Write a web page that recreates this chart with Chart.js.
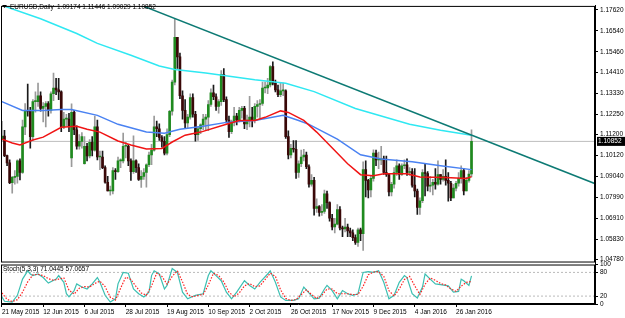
<!DOCTYPE html>
<html>
<head>
<meta charset="utf-8">
<script src="https://cdn.jsdelivr.net/npm/chart.js@4.4.1/dist/chart.umd.min.js"></script>
<style>
  html, body { margin: 0; padding: 0; background: #fff; }
</style>
</head>
<body>
<canvas id="chart" width="625" height="318"></canvas>
<script>
// EURUSD daily, 21 May 2015 .. 3 Feb 2016 (bar index 0..182)
const dateLabels = ["21 May 2015", "12 Jun 2015", "6 Jul 2015", "28 Jul 2015", "19 Aug 2015", "10 Sep 2015",
                    "2 Oct 2015", "26 Oct 2015", "17 Nov 2015", "9 Dec 2015", "4 Jan 2016", "26 Jan 2016"];
const dateIndex  = [0, 16, 32, 48, 64, 80, 96, 112, 128, 144, 160, 176];

const priceTicks = [1.1762, 1.1654, 1.1546, 1.1441, 1.1333, 1.1225, 1.1120, 1.1012,
                    1.0904, 1.0799, 1.0691, 1.0583, 1.0478];
const stochTicks = [100, 80, 20, 0];
const stochLevels = [20, 80];
const bid = 1.10852;

const open = [
  1.1095,1.1112,1.1012,1.0975,1.0873,1.0900,1.0905,1.0985,1.0925,1.1160,
  1.1245,1.1240,1.1110,1.1290,1.1290,1.1320,1.1255,1.1265,1.1280,1.1245,
  1.1330,1.1360,1.1350,1.1340,1.1160,1.1200,1.1200,1.1000,1.1235,1.1145,
  1.1060,1.1085,1.0970,1.1060,1.1010,1.1080,1.1040,1.1160,1.1005,1.1005,
  1.0950,1.0875,1.0830,1.0830,1.0935,1.0930,1.0985,1.0985,1.1060,1.1060,
  1.0985,1.0930,1.0985,1.0950,1.0890,1.0905,1.0925,1.0965,1.1015,1.1040,
  1.1160,1.1150,1.1105,1.1085,1.1025,1.1120,1.1240,1.1390,1.1620,1.1520,
  1.1320,1.1245,1.1180,1.1210,1.1310,1.1225,1.1120,1.1150,1.1170,1.1200,
  1.1210,1.1275,1.1335,1.1315,1.1265,1.1290,1.1430,1.1300,1.1195,1.1135,
  1.1185,1.1215,1.1195,1.1245,1.1255,1.1175,1.1195,1.1210,1.1195,1.1265,
  1.1275,1.1280,1.1360,1.1360,1.1375,1.1470,1.1385,1.1350,1.1325,1.1345,
  1.1345,1.1110,1.1015,1.1050,1.1045,1.0925,1.0970,1.1005,1.1015,1.0955,
  1.0865,1.0885,1.0740,1.0750,1.0720,1.0725,1.0815,1.0770,1.0690,1.0645,
  1.0660,1.0735,1.0640,1.0635,1.0645,1.0625,1.0615,1.0590,1.0565,1.0630,
  1.0610,1.0940,1.0885,1.0835,1.0895,1.1025,1.0990,1.0990,1.0995,1.0925,
  1.0915,1.0825,1.0865,1.0925,1.0960,1.0915,1.0960,1.0965,1.0925,1.0930,
  1.0860,1.0830,1.0745,1.0780,1.0925,1.0920,1.0855,1.0860,1.0875,1.0865,
  1.0915,1.0890,1.0905,1.0885,1.0870,1.0795,1.0845,1.0870,1.0895,1.0935,
  1.0830,1.0885,1.09174
];
const high = [
  1.1189,1.1142,1.1015,1.0990,1.0905,1.0935,1.0990,1.0995,1.1195,1.1280,
  1.1380,1.1260,1.1300,1.1340,1.1385,1.1340,1.1285,1.1290,1.1290,1.1340,
  1.1436,1.1410,1.1410,1.1345,1.1235,1.1225,1.1230,1.1278,1.1245,1.1165,
  1.1120,1.1130,1.1110,1.1075,1.1095,1.1110,1.1215,1.1195,1.1035,1.1035,
  1.0960,1.0905,1.0855,1.0950,1.0945,1.1005,1.0995,1.1128,1.1080,1.1070,
  1.0995,1.1114,1.0990,1.0970,1.0935,1.0945,1.0970,1.1030,1.1070,1.1215,
  1.1190,1.1175,1.1115,1.1110,1.1150,1.1245,1.1400,1.1714,1.1620,1.1540,
  1.1345,1.1300,1.1225,1.1330,1.1330,1.1240,1.1160,1.1175,1.1225,1.1225,
  1.1295,1.1355,1.1375,1.1330,1.1300,1.1450,1.1460,1.1315,1.1215,1.1195,
  1.1260,1.1230,1.1260,1.1265,1.1265,1.1220,1.1317,1.1260,1.1280,1.1295,
  1.1300,1.1390,1.1390,1.1410,1.1475,1.1495,1.1400,1.1375,1.1385,1.1385,
  1.1350,1.1140,1.1070,1.1090,1.1090,1.0985,1.1040,1.1045,1.1030,1.0965,
  1.0915,1.0900,1.0790,1.0755,1.0760,1.0835,1.0830,1.0775,1.0710,1.0690,
  1.0760,1.0750,1.0650,1.0690,1.0660,1.0640,1.0630,1.0605,1.0640,1.0640,
  1.0980,1.0985,1.0890,1.0905,1.1042,1.1040,1.1030,1.1060,1.1010,1.1010,
  1.0920,1.0875,1.0950,1.0990,1.0970,1.0970,1.0990,1.0995,1.0950,1.0945,
  1.0945,1.0840,1.0795,1.0940,1.0970,1.0930,1.0905,1.0890,1.0945,1.0985,
  1.0915,1.0940,1.0990,1.0925,1.0880,1.0865,1.0880,1.0925,1.0960,1.0945,
  1.0900,1.0935,1.11446
];
const low = [
  1.1085,1.1006,1.0960,1.0868,1.0819,1.0865,1.0870,1.0887,1.0920,1.1120,
  1.1215,1.1050,1.1090,1.1235,1.1265,1.1240,1.1185,1.1160,1.1215,1.1230,
  1.1295,1.1325,1.1300,1.1135,1.1150,1.1165,1.1135,1.0955,1.1120,1.1045,
  1.1045,1.1050,1.0968,1.0985,1.1000,1.1010,1.1035,1.0990,1.0940,1.0945,
  1.0870,1.0830,1.0809,1.0815,1.0890,1.0925,1.0950,1.0975,1.1000,1.0960,
  1.0885,1.0920,1.0925,1.0885,1.0848,1.0890,1.0850,1.0955,1.0965,1.1035,
  1.1110,1.1090,1.1055,1.1015,1.1015,1.1110,1.1220,1.1375,1.1460,1.1305,
  1.1200,1.1155,1.1155,1.1200,1.1210,1.1086,1.1090,1.1125,1.1145,1.1140,
  1.1140,1.1265,1.1300,1.1245,1.1230,1.1270,1.1290,1.1180,1.1105,1.1125,
  1.1165,1.1170,1.1185,1.1205,1.1150,1.1145,1.1160,1.1160,1.1180,1.1210,
  1.1205,1.1270,1.1335,1.1330,1.1365,1.1375,1.1340,1.1315,1.1315,1.1320,
  1.1100,1.0995,1.1000,1.1030,1.0895,1.0900,1.0955,1.0985,1.0945,1.0850,
  1.0855,1.0706,1.0720,1.0700,1.0705,1.0715,1.0740,1.0675,1.0630,1.0615,
  1.0655,1.0630,1.0595,1.0620,1.0595,1.0595,1.0575,1.0555,1.0545,1.0575,
  1.0524,1.0800,1.0795,1.0800,1.0880,1.0960,1.0945,1.0965,1.0915,1.0905,
  1.0805,1.0805,1.0845,1.0910,1.0890,1.0910,1.0945,1.0910,1.0910,1.0850,
  1.0800,1.0710,1.0710,1.0770,1.0805,1.0830,1.0825,1.0810,1.0840,1.0860,
  1.0865,1.0880,1.0860,1.0778,1.0780,1.0795,1.0830,1.0855,1.0870,1.0810,
  1.0830,1.0875,1.09029
];
const close = [
  1.1112,1.1012,1.0975,1.0873,1.0900,1.0905,1.0985,1.0925,1.1160,1.1245,
  1.1240,1.1110,1.1290,1.1290,1.1320,1.1255,1.1265,1.1280,1.1245,1.1330,
  1.1360,1.1350,1.1340,1.1160,1.1200,1.1200,1.1165,1.1235,1.1145,1.1060,
  1.1085,1.1110,1.1060,1.1010,1.1080,1.1040,1.1160,1.1005,1.1005,1.0950,
  1.0875,1.0830,1.0830,1.0935,1.0930,1.0985,1.0985,1.1060,1.1060,1.0985,
  1.0930,1.0985,1.0950,1.0890,1.0905,1.0925,1.0965,1.1015,1.1040,1.1160,
  1.1150,1.1105,1.1085,1.1025,1.1120,1.1240,1.1390,1.1620,1.1520,1.1320,
  1.1245,1.1180,1.1210,1.1310,1.1225,1.1120,1.1150,1.1170,1.1200,1.1210,
  1.1275,1.1335,1.1315,1.1265,1.1290,1.1430,1.1300,1.1195,1.1135,1.1185,
  1.1215,1.1195,1.1245,1.1255,1.1175,1.1195,1.1210,1.1195,1.1265,1.1275,
  1.1280,1.1360,1.1360,1.1375,1.1470,1.1385,1.1350,1.1325,1.1345,1.1345,
  1.1110,1.1015,1.1050,1.1045,1.0925,1.0970,1.1005,1.1015,1.0955,1.0865,
  1.0885,1.0740,1.0750,1.0720,1.0725,1.0815,1.0770,1.0690,1.0645,1.0660,
  1.0735,1.0640,1.0635,1.0645,1.0625,1.0615,1.0590,1.0565,1.0630,1.0610,
  1.0940,1.0885,1.0835,1.0895,1.1025,1.0990,1.0990,1.0995,1.0925,1.0915,
  1.0825,1.0865,1.0925,1.0960,1.0915,1.0960,1.0965,1.0925,1.0930,1.0860,
  1.0830,1.0745,1.0780,1.0925,1.0920,1.0855,1.0860,1.0875,1.0865,1.0915,
  1.0890,1.0905,1.0885,1.0870,1.0795,1.0845,1.0870,1.0895,1.0935,1.0830,
  1.0885,1.0917,1.10852
];

// moving averages, [bar index, price]
const maCyan = [[0,1.1785],[15,1.1716],[29,1.1640],[37,1.1589],[50,1.1528],[61,1.1473],[67,1.1455],
  [79,1.1437],[98,1.1402],[110,1.1384],[121,1.1341],[137,1.1254],[158,1.1173],[170,1.1143],[182,1.1117]];
const maBlue = [[0,1.1290],[8,1.1244],[16,1.1244],[23,1.1249],[27,1.1249],[37,1.1219],[45,1.1173],
  [56,1.1133],[63,1.1127],[69,1.1148],[78,1.1163],[87,1.1183],[98,1.1193],[109,1.1219],[115,1.1193],
  [119,1.1173],[130,1.1097],[139,1.1016],[147,1.0995],[159,1.0980],[170,1.0960],[182,1.0940]];
const maRed = [[0,1.1097],[4,1.1077],[7,1.1067],[12,1.1092],[16,1.1107],[23,1.1158],[29,1.1163],
  [33,1.1148],[38,1.1133],[45,1.1087],[50,1.1067],[56,1.1046],[62,1.1049],[66,1.1082],[71,1.1117],
  [77,1.1133],[87,1.1173],[92,1.1193],[98,1.1193],[102,1.1209],[108,1.1242],[111,1.1234],[117,1.1193],
  [122,1.1133],[134,1.0970],[139,1.0914],[144,1.0909],[148,1.0919],[157,1.0919],[162,1.0902],
  [172,1.0899],[180,1.0894],[182,1.0904]];
const trendLine = [[54,1.1785],[230,1.0867]];

// Stoch(5,3,3)
const stochMain = [[0,18],[1,7],[4,5],[6,22],[8,63],[10,84],[11,76],[12,72],[14,76],[16,67],[18,53],
  [21,63],[22,72],[24,55],[25,26],[26,18],[28,34],[29,51],[31,43],[33,38],[35,51],[37,67],[38,55],
  [40,22],[42,5],[44,13],[45,51],[47,80],[49,78],[51,38],[53,26],[55,18],[57,30],[58,72],[59,84],
  [61,76],[63,38],[64,47],[66,90],[68,80],[70,30],[72,13],[75,22],[78,26],[80,72],[81,84],[83,72],
  [85,59],[87,30],[89,13],[91,30],[94,59],[96,47],[98,38],[100,55],[103,76],[104,84],[106,55],
  [108,18],[110,9],[113,9],[115,13],[117,43],[119,28],[121,13],[123,15],[125,38],[126,47],[128,34],
  [130,13],[132,34],[134,26],[136,22],[138,26],[140,80],[142,82],[144,80],[146,84],[148,55],[150,13],
  [152,22],[154,55],[156,72],[157,67],[159,26],[161,15],[163,43],[164,76],[166,63],[168,51],[170,49],
  [173,46],[175,30],[177,32],[178,63],[179,59],[181,47],[182,71]];
const stochSignal = [[0,28],[2,12],[4,6],[6,11],[8,30],[10,56],[12,74],[14,75],[16,72],[18,64],[20,60],
  [22,63],[24,66],[26,35],[28,25],[30,40],[32,44],[34,43],[36,52],[38,58],[40,44],[42,17],[44,10],
  [46,40],[48,68],[50,62],[52,44],[54,28],[56,22],[58,46],[60,78],[62,70],[64,50],[66,70],[68,84],
  [70,56],[72,24],[74,18],[76,22],[78,24],[80,48],[82,78],[84,72],[86,56],[88,30],[90,18],[92,28],
  [94,46],[96,52],[98,44],[100,46],[102,62],[104,78],[106,70],[108,36],[110,14],[112,9],[114,11],
  [116,24],[118,36],[120,24],[122,14],[124,22],[126,38],[128,38],[130,26],[132,26],[134,26],[136,24],
  [138,24],[140,45],[142,74],[144,81],[146,82],[148,70],[150,34],[152,20],[154,38],[156,62],[158,70],
  [160,46],[162,24],[164,50],[166,66],[168,60],[170,52],[172,48],[174,38],[176,32],[178,45],[180,55],
  [182,57]];

const FONT = "Liberation Sans";
const pts = arr => arr.map(p => ({ x: p[0], y: p[1] }));
const isUp = i => close[i] >= open[i];

const wicks  = low.map((l, i) => ({ x: i, y: [l, high[i]] }));
const bodies = open.map((o, i) => ({ x: i, y: [Math.min(o, close[i]), Math.max(o, close[i])] }));

const xMin = -0.35, xMax = 229.86;

const overlay = {
  id: "overlay",
  afterDraw(chart) {
    const ctx = chart.ctx;
    const a = chart.chartArea;
    const y = chart.scales.y, ys = chart.scales.ys;
    ctx.save();
    // panel frames
    ctx.strokeStyle = "#000";
    ctx.lineWidth = 1;
    ctx.strokeRect(a.left + 0.5, y.top + 0.5, a.right - a.left - 1, y.bottom - y.top - 3);
    ctx.strokeRect(a.left + 0.5, ys.top + 0.5, a.right - a.left - 1, ys.bottom - ys.top - 1);
    // title
    ctx.fillStyle = "#000";
    ctx.beginPath();
    ctx.moveTo(2, 5); ctx.lineTo(7, 5); ctx.lineTo(4.5, 8); ctx.closePath(); ctx.fill();
    ctx.font = "6.5px " + FONT;
    ctx.textBaseline = "middle";
    ctx.fillText("EURUSD,Daily", 10, 7);
    ctx.fillText("1.09174 1.11446 1.09029 1.10852", 57, 7);
    ctx.fillText("Stoch(5,3,3) 71.0445 57.0657", 3, ys.top + 5);
    // bid label
    const by = y.getPixelForValue(bid);
    ctx.fillStyle = "#000";
    ctx.fillRect(a.right + 2, by - 4.5, 28, 9);
    ctx.fillStyle = "#fff";
    ctx.fillText(bid.toFixed(5), a.right + 3, by);
    ctx.restore();
  }
};

new Chart(document.getElementById("chart"), {
  data: {
    datasets: [
      { type: "line", data: pts([[xMin, bid], [xMax, bid]]), borderColor: "#bdbdbd", borderWidth: 1,
        pointRadius: 0, order: 20 },
      { type: "bar", data: wicks, grouped: false, barThickness: 1, order: 12,
        backgroundColor: wicks.map((w, i) => isUp(i) ? "#9a9a9a" : "#1a1a1a") },
      { type: "bar", data: bodies, grouped: false, barThickness: 2, minBarLength: 1, order: 11,
        backgroundColor: bodies.map((b, i) => isUp(i) ? "#1f8a1f" : "#3a0808") },
      { type: "line", data: pts(maCyan), borderColor: "#2fe8f2", borderWidth: 1.5, pointRadius: 0, order: 6 },
      { type: "line", data: pts(maBlue), borderColor: "#4a82f2", borderWidth: 1.5, pointRadius: 0, order: 5 },
      { type: "line", data: pts(maRed), borderColor: "#f01414", borderWidth: 1.5, pointRadius: 0, order: 4 },
      { type: "line", data: pts(trendLine), borderColor: "#0d7a74", borderWidth: 1.5, pointRadius: 0, order: 3 },
      ...stochLevels.map(v => ({ type: "line", yAxisID: "ys", data: pts([[xMin, v], [xMax, v]]),
        borderColor: "#a8a8a8", borderWidth: 0.8, borderDash: [2, 2], pointRadius: 0, order: 8 })),
      { type: "line", yAxisID: "ys", data: pts(stochMain), borderColor: "#3cbfb2", borderWidth: 1.2,
        pointRadius: 0, order: 2 },
      { type: "line", yAxisID: "ys", data: pts(stochSignal), borderColor: "#ff2222", borderWidth: 1.2,
        borderDash: [1.5, 1.5], pointRadius: 0, order: 1 }
    ]
  },
  options: {
    responsive: false,
    animation: false,
    devicePixelRatio: 1,
    layout: { padding: { left: 1, top: 2, right: 0, bottom: 0 } },
    plugins: { legend: { display: false }, tooltip: { enabled: false } },
    scales: {
      x: {
        type: "linear", min: xMin, max: xMax, offset: false,
        afterBuildTicks: s => { s.ticks = dateIndex.map(v => ({ value: v })); },
        afterFit: s => { s.height = 14; },
        ticks: {
          autoSkip: false, maxRotation: 0, align: "start", padding: 1,
          font: { family: FONT, size: 6.5 }, color: "#000",
          callback: (v, i) => dateLabels[i]
        },
        grid: { offset: false, drawOnChartArea: false, tickLength: 3, color: "#000" },
        border: { color: "#000" }
      },
      y: {
        type: "linear", position: "right", stack: "panes", stackWeight: 262,
        min: 1.0452, max: 1.1782,
        afterBuildTicks: s => { s.ticks = priceTicks.map(v => ({ value: v })); },
        afterFit: s => { s.width = 30; },
        ticks: { autoSkip: false, font: { family: FONT, size: 6.5 }, color: "#000", padding: 2,
                 callback: v => v.toFixed(5) },
        grid: { drawOnChartArea: false, tickLength: 3, color: "#000" },
        border: { color: "#000" }
      },
      ys: {
        type: "linear", position: "right", stack: "panes", stackWeight: 40,
        min: 0, max: 100,
        afterBuildTicks: s => { s.ticks = stochTicks.map(v => ({ value: v })); },
        afterFit: s => { s.width = 30; },
        ticks: { autoSkip: false, font: { family: FONT, size: 6.5 }, color: "#000", padding: 2 },
        grid: { drawOnChartArea: false, tickLength: 3, color: "#000" },
        border: { color: "#000" }
      }
    }
  },
  plugins: [overlay]
});
</script>
</body>
</html>
